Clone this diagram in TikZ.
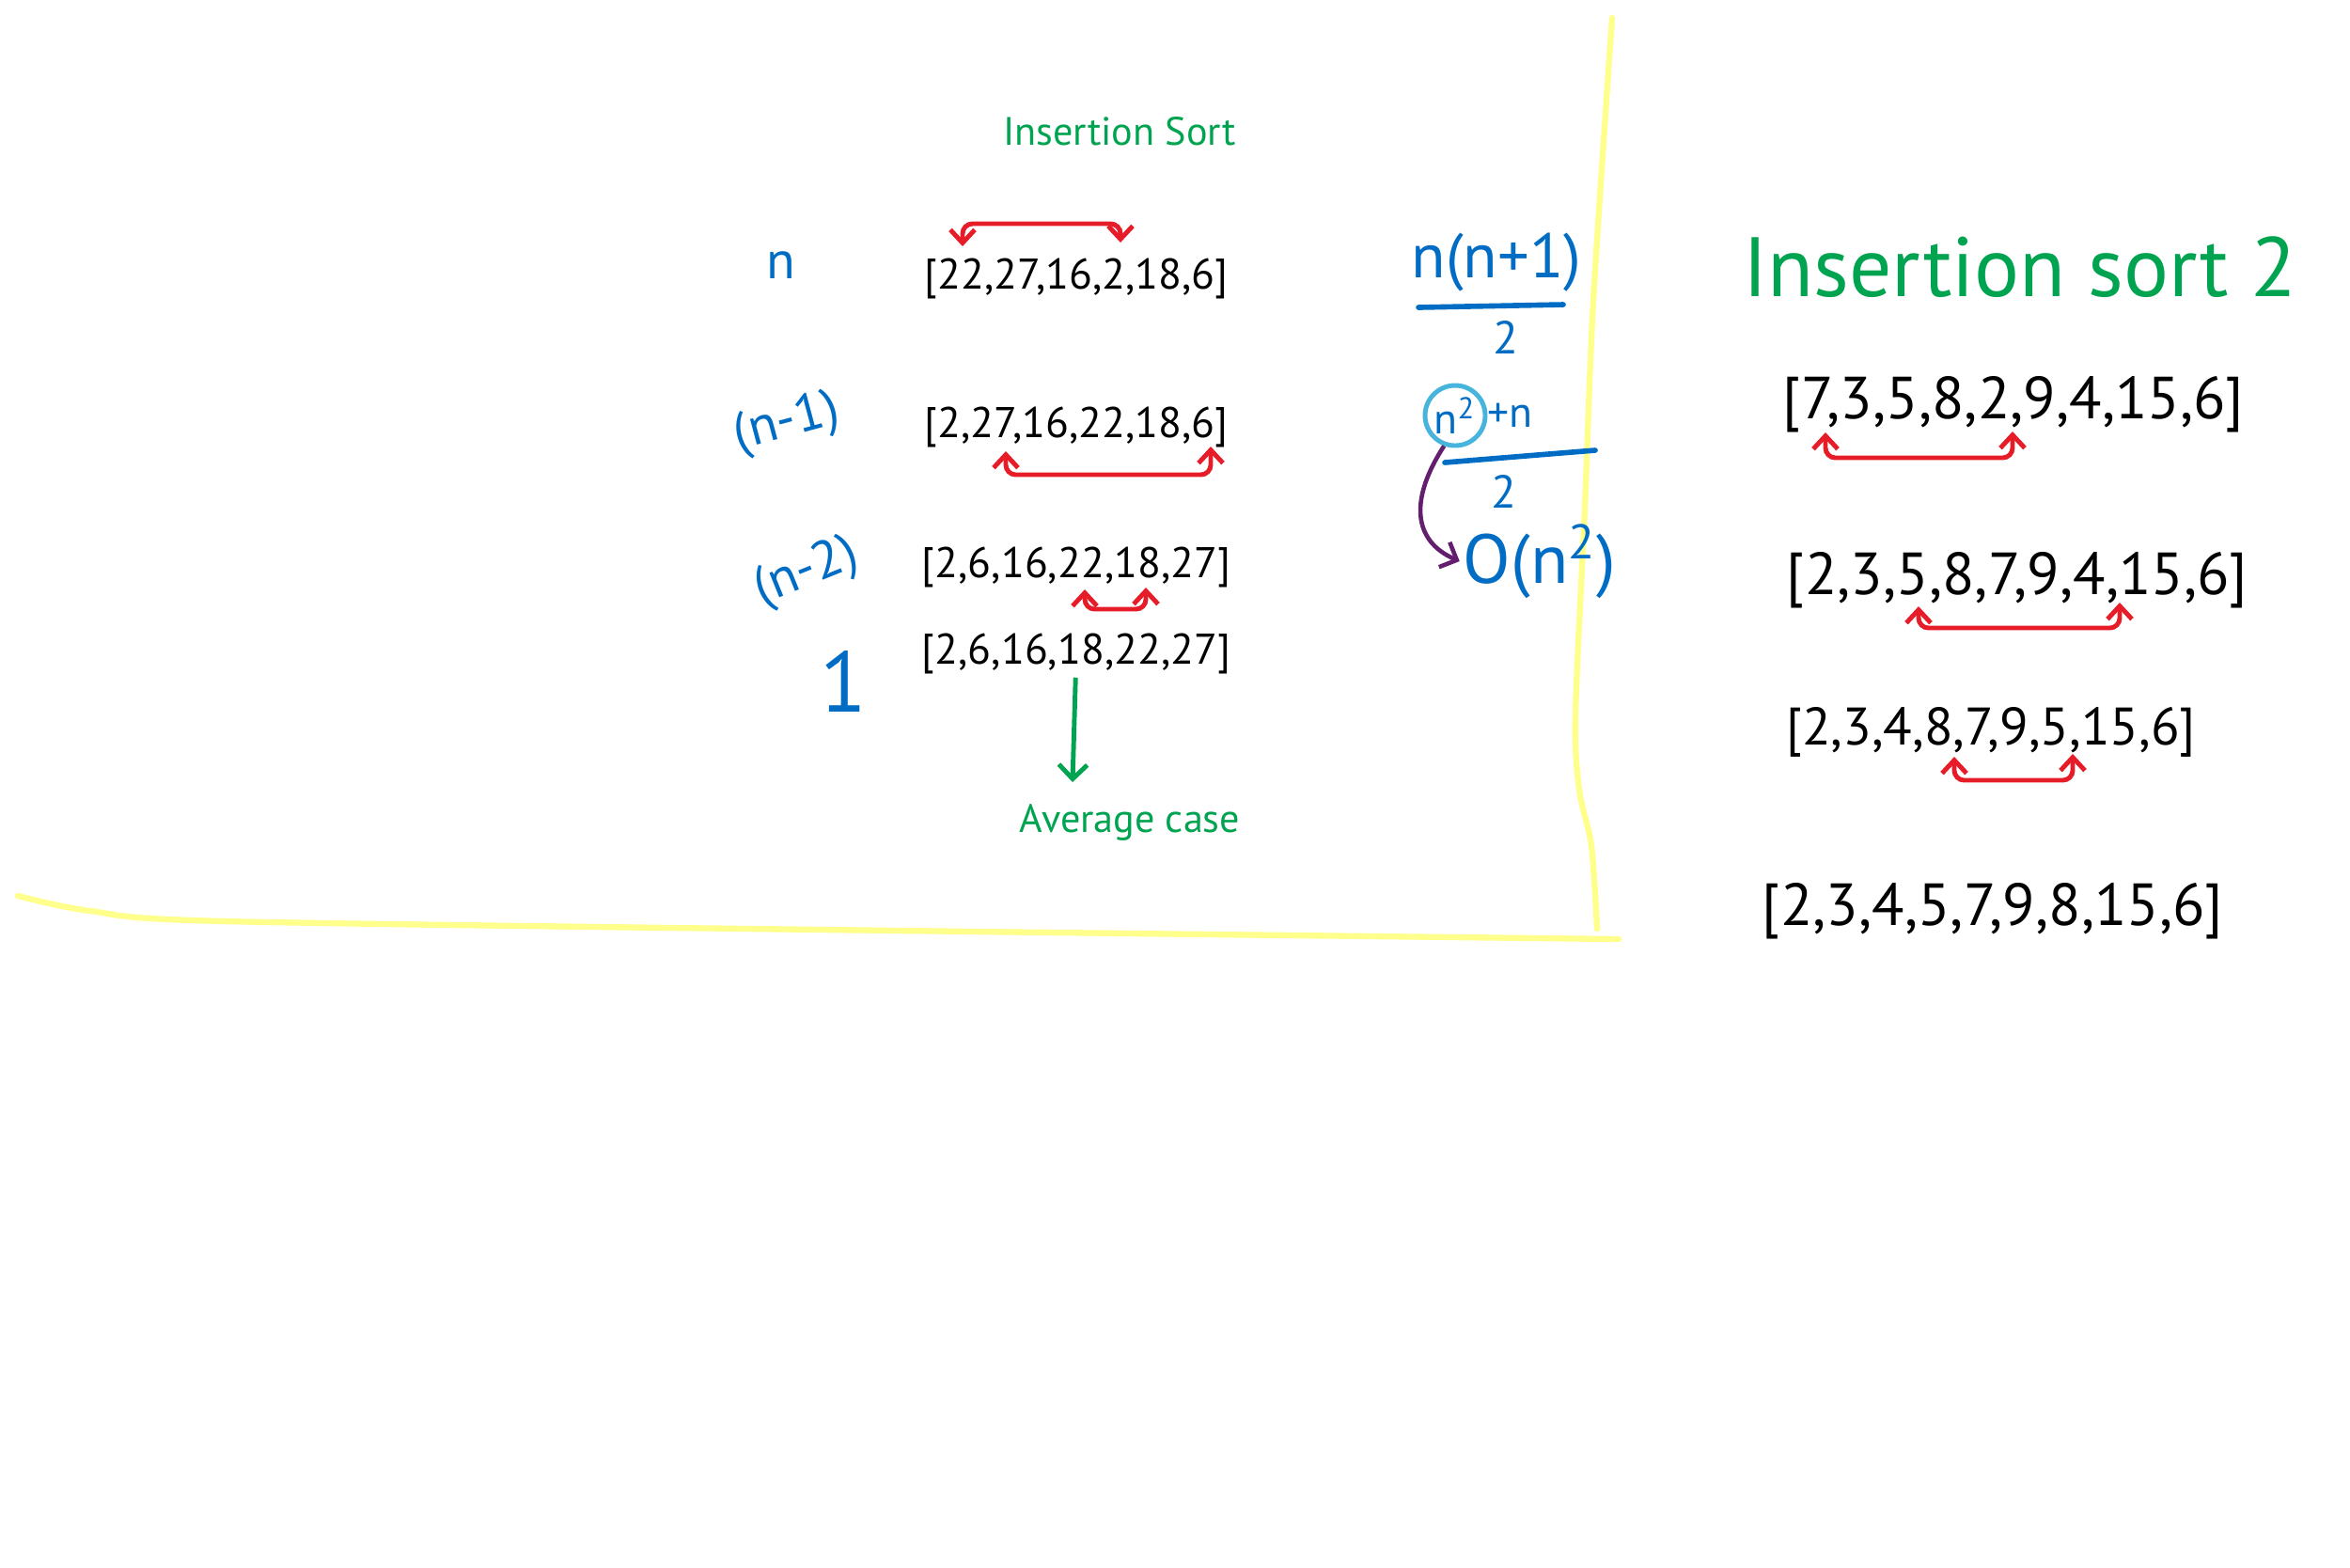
\documentclass[tikz,border=0pt]{standalone}
\usepackage{fontspec}
\setmainfont{PT Sans}
\usepackage{tikz}
\usetikzlibrary{arrows.meta,positioning,calc}

\definecolor{inkred}{RGB}{230,28,40}
\definecolor{inkgreen}{RGB}{0,163,80}
\definecolor{inkblue}{RGB}{0,108,196}
\definecolor{inkpurple}{RGB}{100,30,110}
\definecolor{inkcyan}{RGB}{70,180,220}
\definecolor{marker}{RGB}{255,255,140}

\begin{document}
\begin{tikzpicture}[
  x=1cm,y=-1cm,
  >=Straight Barb,
  arr/.style={inner sep=1pt,font=\fontsize{13}{15}\selectfont},
  bigarr/.style={inner sep=1pt,font=\fontsize{18}{21}\selectfont},
  note/.style={text=inkgreen,inner sep=1pt,font=\fontsize{12}{14}\selectfont},
  count/.style={text=inkblue,inner sep=1pt,font=\fontsize{16}{19}\selectfont},
  swap/.style={draw=inkred,line width=1.4pt,rounded corners=3pt,
    {Straight Barb[length=1.4mm,width=2.6mm]}-{Straight Barb[length=1.4mm,width=2.6mm]}},
  frac/.style={draw=inkblue,line width=1.6pt,line cap=round},
  hl/.style={draw=marker,line width=1.8pt,line cap=round}
]
\useasboundingbox (0,0) rectangle (25,16.67);

% highlighter frame
\draw[hl] plot[smooth] coordinates {(17.15,0.19) (16.95,3.20) (16.86,5.40) (16.76,7.60) (16.80,8.40) (16.93,9.00) (16.99,9.88)};
\draw[hl] plot[smooth] coordinates {(0.19,9.53) (0.96,9.69) (2.39,9.80) (9.56,9.90) (17.22,9.99)};

% left column: passes
\node[note] (t1) at (11.91,1.40) {Insertion Sort};

\node[count] (c1) at (8.31,2.82) {n};
\node[arr] (a1) at (11.45,2.96) {[22,27,16,2,18,6]};
\coordinate (a1l) at (10.24,2.62);
\coordinate (a1r) at (11.92,2.58);
\draw[swap] (a1l) -- ++(0,-0.24) -| (a1r);

\node[count,rotate=15] (c2) at (8.37,4.51) {(n-1)};
\node[arr] (a2) at (11.45,4.54) {[2,27,16,22,18,6]};
\coordinate (a2l) at (10.70,4.80);
\coordinate (a2r) at (12.88,4.75);
\draw[swap] (a2l) -- ++(0,0.25) -| (a2r);

\node[count,rotate=22] (c3) at (8.58,6.09) {(n-2)};
\node[arr] (a3) at (11.45,6.03) {[2,6,16,22,18,27]};
\coordinate (a3l) at (11.54,6.27);
\coordinate (a3r) at (12.19,6.25);
\draw[swap] (a3l) -- ++(0,0.21) -| (a3r);

\node[count,font=\fontsize{26}{30}\selectfont] (c4) at (8.97,7.25) {1};
\node[arr] (a4) at (11.45,6.95) {[2,6,16,18,22,27]};
\coordinate (avgtip) at (11.41,8.32);
\draw[inkgreen,line width=1.4pt,->] (a4) -- (avgtip);
\node[note] (avg) at (12.02,8.75) {Average case};

% cost sum
\node[count,font=\fontsize{19}{22}\selectfont] (s1) at (15.92,2.79) {n(n+1)};
\draw[frac] (15.09,3.27) -- (16.63,3.24);
\node[count,font=\fontsize{14}{16}\selectfont] (d1) at (16.02,3.59) {2};

\node[count,font=\fontsize{13}{15}\selectfont,circle,draw=inkcyan,line width=1.4pt,minimum size=0.64cm,inner sep=0pt] (sq) at (15.48,4.42) {n\textsuperscript{2}};
\node[count,font=\fontsize{13}{15}\selectfont,anchor=west] (pn) at (15.78,4.42) {+n};
\draw[frac] (15.37,4.92) -- (16.97,4.79);
\node[count,font=\fontsize{14}{16}\selectfont] (d2) at (16.00,5.23) {2};

\node[count,font=\fontsize{21}{24}\selectfont] (bigo) at (16.38,5.97) {O(n\textsuperscript{2})};
\draw[inkpurple,line width=1.3pt,->] (sq.250) .. controls (15.00,5.30) and (15.02,5.75) .. (bigo.west);

% right column: second example
\node[note,font=\fontsize{25.5}{30}\selectfont] (t2) at (21.49,2.84) {Insertion sort 2};

\node[bigarr] (r1) at (21.42,4.30) {[7,3,5,8,2,9,4,15,6]};
\coordinate (r1l) at (19.42,4.60);
\coordinate (r1r) at (21.41,4.59);
\draw[swap] (r1l) -- ++(0,0.27) -| (r1r);

\node[bigarr] (r2) at (21.46,6.17) {[2,3,5,8,7,9,4,15,6]};
\coordinate (r2l) at (20.41,6.45);
\coordinate (r2r) at (22.55,6.41);
\draw[swap] (r2l) -- ++(0,0.23) -| (r2r);

\node[arr,font=\fontsize{16}{19}\selectfont] (r3) at (21.18,7.79) {[2,3,4,8,7,9,5,15,6]};
\coordinate (r3l) at (20.79,8.05);
\coordinate (r3r) at (22.05,8.02);
\draw[swap] (r3l) -- ++(0,0.25) -| (r3r);

\node[bigarr] (r4) at (21.20,9.69) {[2,3,4,5,7,9,8,15,6]};
\end{tikzpicture}
\end{document}
